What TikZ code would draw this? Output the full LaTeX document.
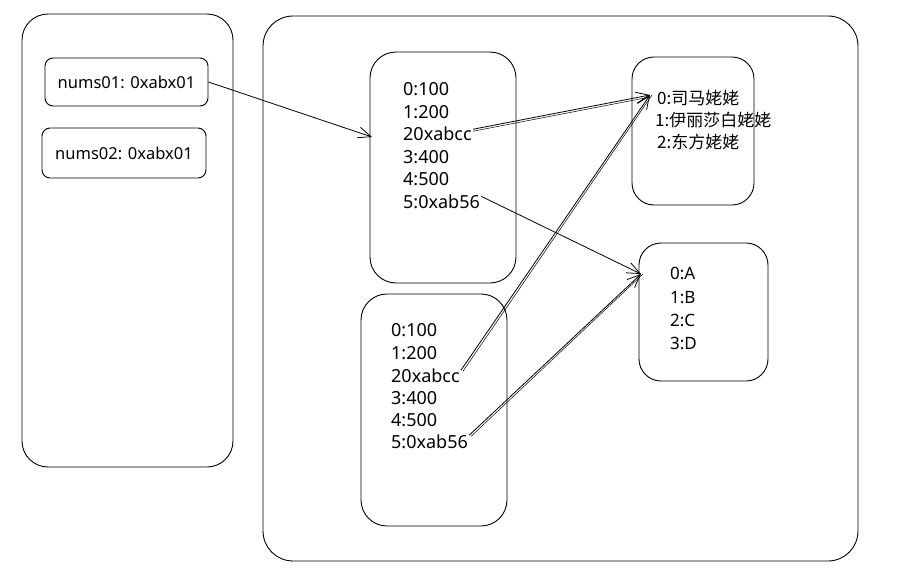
\documentclass[tikz,border=0pt]{standalone}
\usepackage{fontspec}
\setmainfont{Noto Sans}
\newfontfamily\cjk{Noto Sans CJK SC}
\usetikzlibrary{arrows.meta}
\begin{document}
\begin{tikzpicture}[x=1pt,y=-1pt,
  box/.style={draw,line width=0.9pt,rounded corners=#1},
  box/.default=18pt,
  txt/.style={anchor=base west,inner sep=0pt,font=\fontsize{18}{18}\selectfont},
  ltxt/.style={anchor=base west,inner sep=0pt,font=\fontsize{17}{17}\selectfont},
  ctxt/.style={anchor=base west,inner sep=0pt,font=\cjk\fontsize{17}{17}\selectfont},
  arr/.style={line width=0.8pt,-{Straight Barb[length=13pt,width=11pt,line width=0.8pt]}},
  dbl/.style={line width=0.5pt}]
\useasboundingbox (0,0) rectangle (898,568);
% containers
\draw[box=26pt] (22,14) rectangle (233,467);
\draw[box=30pt] (263,16) rectangle (858,561);
\node[box=8pt,minimum width=163pt,minimum height=48pt,inner sep=0pt,font=\fontsize{16.5}{16.5}\selectfont] (n1) at (126.5,82) {nums01: 0xabx01};
\node[box=8pt,minimum width=164pt,minimum height=50pt,inner sep=0pt,font=\fontsize{16.5}{16.5}\selectfont] (n2) at (124,153) {nums02: 0xabx01};
% array boxes
\draw[box=26pt] (370,52) rectangle (516,283);
\draw[box=26pt] (361,294) rectangle (507,526);
\draw[box=22pt] (632,57) rectangle (754,205);
\draw[box=22pt] (639,243) rectangle (768,381);
\coordinate (a1in) at (372,137);
\coordinate (nmin) at (650,95);
\coordinate (ltin) at (641,274);
% array 1 text
\node[txt] (a1l0) at (403,95) {0:100};
\node[txt] (a1l1) at (403,118) {1:200};
\node[txt] (a1l2) at (403,140) {20xabcc};
\node[txt] (a1l3) at (403,163) {3:400};
\node[txt] (a1l4) at (403,185) {4:500};
\node[txt] (a1l5) at (403,208) {5:0xab56};
% array 2 text
\node[txt] (a2l0) at (391,336) {0:100};
\node[txt] (a2l1) at (391,359) {1:200};
\node[txt] (a2l2) at (391,382) {20xabcc};
\node[txt] (a2l3) at (391,404) {3:400};
\node[txt] (a2l4) at (391,426) {4:500};
\node[txt] (a2l5) at (391,448) {5:0xab56};
% names
\node[ctxt] (m0) at (657,104) {0:司马姥姥};
\node[ctxt] (m1) at (655,126) {1:伊丽莎白姥姥};
\node[ctxt] (m2) at (657,148) {2:东方姥姥};
% letters
\node[ltxt] (t0) at (670,279) {0:A};
\node[ltxt] (t1) at (670,303) {1:B};
\node[ltxt] (t2) at (670,326) {2:C};
\node[ltxt] (t3) at (670,349) {3:D};
% arrows
\draw[arr] (n1.east) -- (a1in);
\draw[arr] ([xshift=1pt,yshift=4pt]a1l2.east) -- (nmin);
\draw[dbl] ([xshift=1pt,yshift=2pt]a1l2.east) -- ([yshift=-2pt]nmin);
\draw[arr] ([xshift=1pt,yshift=5pt]a1l5.east) -- (ltin);
\draw[arr] ([xshift=1pt,yshift=5pt]a2l2.east) -- (nmin);
\draw[dbl] ([xshift=3pt,yshift=4pt]a2l2.east) -- ([xshift=2pt]nmin);
\draw[arr] ([xshift=1pt,yshift=6pt]a2l5.east) -- (ltin);
\draw[dbl] ([xshift=3pt,yshift=5pt]a2l5.east) -- ([xshift=2pt]ltin);
\end{tikzpicture}
\end{document}
